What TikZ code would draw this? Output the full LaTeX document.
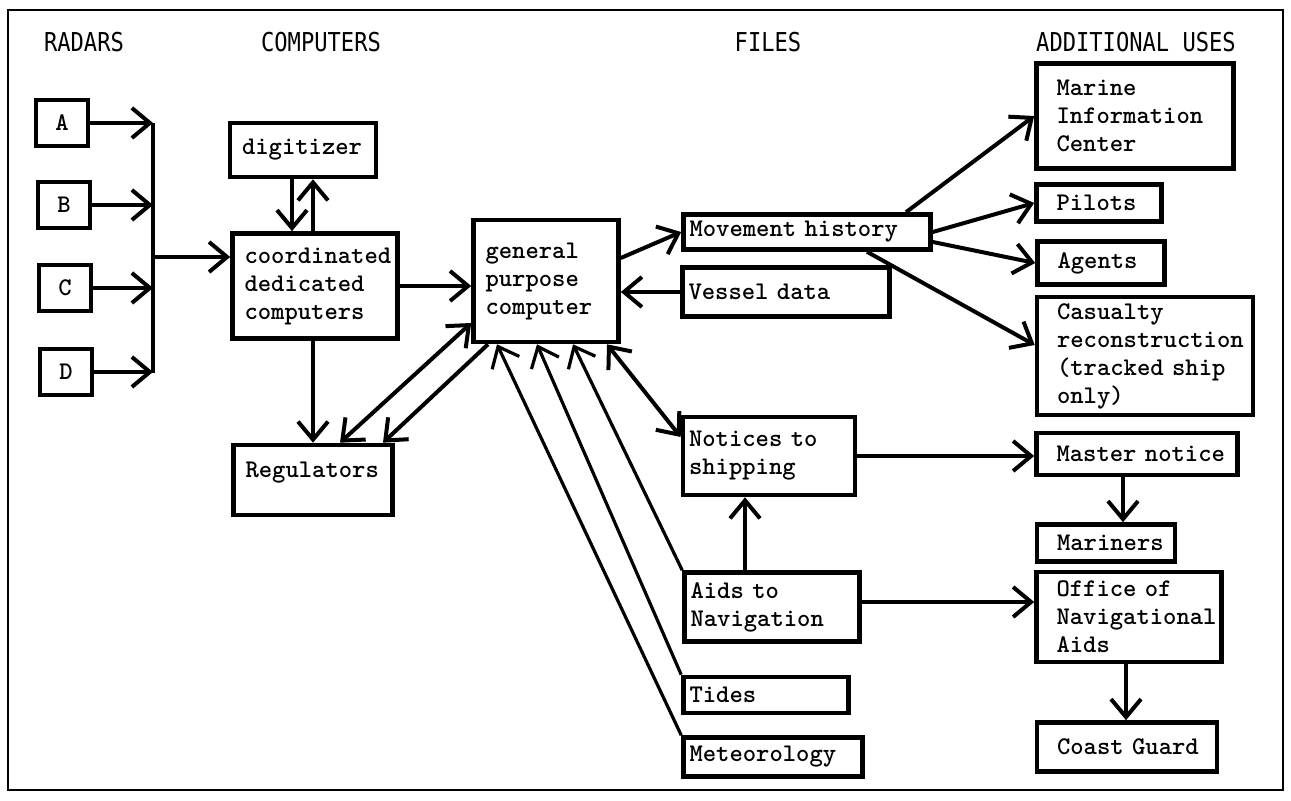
\documentclass[tikz,border=0pt]{standalone}
\usepackage{fontspec}
\newfontfamily\headfont[FakeStretch=0.85]{DejaVu Sans Mono}
\usetikzlibrary{arrows.meta}
\tikzset{>={Straight Barb[length=9pt,width=15pt]}}
\hyphenpenalty=10000
\exhyphenpenalty=10000

\begin{document}
\begin{tikzpicture}[x=0.5pt, y=-0.5pt,
  head/.style={font=\headfont\fontsize{13}{13}\selectfont},
  box/.style={draw, line width=2.3pt, rectangle, align=left, inner ysep=2pt,
    font=\ttfamily\bfseries\fontsize{12.7}{14}\selectfont},
  comp/.style={box, inner xsep=6pt},
  file/.style={box, inner xsep=3pt},
  use/.style={box, inner xsep=10pt},
  radar/.style={draw, line width=2pt, minimum width=26pt, minimum height=23pt,
    font=\ttfamily\bfseries\fontsize{12.7}{14}\selectfont},
  conn/.style={line width=2pt},
  feed/.style={line width=1.6pt}]
\useasboundingbox (0,0) rectangle (1291,801);
\draw[line width=1.2pt] (8,10) rectangle (1283,790);

\node[head] (hradar) at (84,42) {RADARS};
\node[head] (hcomp) at (321,42) {COMPUTERS};
\node[head] (hfile) at (768,42) {FILES};
\node[head] (huse) at (1136,42) {ADDITIONAL USES};

\node[radar] (A) at (62,123) {A};
\node[radar] (B) at (64,205) {B};
\node[radar] (C) at (65,288) {C};
\node[radar] (D) at (66,372) {D};

\node[comp, text width=61pt, minimum height=27pt] (digit) at (303,150) {digitizer};
\node[comp, text width=70.5pt, minimum height=52.5pt] (coord) at (315,286) {coordinated\\dedicated\\computers};
\node[comp, text width=60.5pt, minimum height=61pt] (gpc) at (546,281) {general\\purpose\\computer};
\node[comp, text width=67.5pt, minimum height=35pt, text depth=10pt] (reg) at (313,480) {Regulators};

\node[file, text width=117.5pt, minimum height=17.5pt] (movement) at (807,232) {Movement~history};
\node[file, text width=97.5pt, minimum height=24.5pt] (vessel) at (786,292) {Vessel~data};
\node[file, text width=80pt, minimum height=39pt] (notices) at (769,456) {Notices to\\shipping};
\node[file, text width=81.5pt, minimum height=34.5pt] (aids) at (772,607) {Aids to\\Navigation};
\node[file, text width=76.5pt, minimum height=18pt] (tides) at (766,695) {Tides};
\node[file, text width=83.5pt, minimum height=19.5pt] (meteo) at (773,757) {Meteorology};

\node[use, text width=78.5pt, minimum height=52.5pt] (marine) at (1135,116) {Marine\\Information\\Center};
\node[use, text width=42.5pt, minimum height=18.5pt] (pilots) at (1099,203) {Pilots};
\node[use, text width=43.5pt, minimum height=21.5pt] (agents) at (1101,263) {Agents};
\node[use, text width=88pt, minimum height=59pt] (casualty) at (1145,356) {Casualty\\reconstruction\\(tracked~ship\\only)};
\node[use, text width=80.5pt, minimum height=21pt] (master) at (1137,454) {Master~notice};
\node[use, text width=49pt, minimum height=18.5pt] (mariners) at (1106,543) {Mariners};
\node[use, text width=72.5pt, minimum height=45pt] (office) at (1129,617) {Office~of\\Navigational\\Aids};
\node[use, text width=70pt, minimum height=24.5pt] (guard) at (1127,747) {Coast~Guard};

\coordinate (bustop) at (153,123);
\coordinate (busbot) at (153,373);
\coordinate (bus) at (153,257);
\draw[conn] (bustop) -- (busbot);
\path[->, conn]
(A) edge (A -| bus)
(B) edge (B -| bus)
(C) edge (C -| bus)
(D) edge (D -| bus)
(bus) edge (bus -| coord.west)
;
\path[->, conn]
(292,0 |- digit.south) edge (292,0 |- coord.north)
(313,0 |- coord.north) edge (313,0 |- digit.south)
(313,0 |- coord.south) edge (313,0 |- reg.north)
(coord) edge (coord -| gpc.west)
(vessel) edge (vessel -| gpc.east)
(gpc.east |- 0,258) edge (movement.west)
(488,0 |- gpc.south) edge (383,0 |- reg.north)
;
\path[<->, conn]
(gpc.west |- 0,323) edge (340,0 |- reg.north)
(607,0 |- gpc.south) edge (notices.west |- 0,437)
;
\path[->, feed]
(meteo.north west) edge (497,0 |- gpc.south)
(tides.north west) edge (537,0 |- gpc.south)
(aids.north west) edge (573,0 |- gpc.south)
;
\path[->, conn]
(745,0 |- aids.north) edge (745,0 |- notices.south)
(notices) edge (notices -| master.west)
(aids.east |- 0,602) edge (office.west |- 0,602)
(1123,0 |- master.south) edge (1123,0 |- mariners.north)
(1126,0 |- office.south) edge (1126,0 |- guard.north)
(906,0 |- movement.north) edge (marine.west)
(movement.east) edge (pilots.west)
(movement.east |- 0,242) edge (agents.west)
(867,0 |- movement.south) edge (casualty.west |- 0,345)
;
\end{tikzpicture}
\end{document}
